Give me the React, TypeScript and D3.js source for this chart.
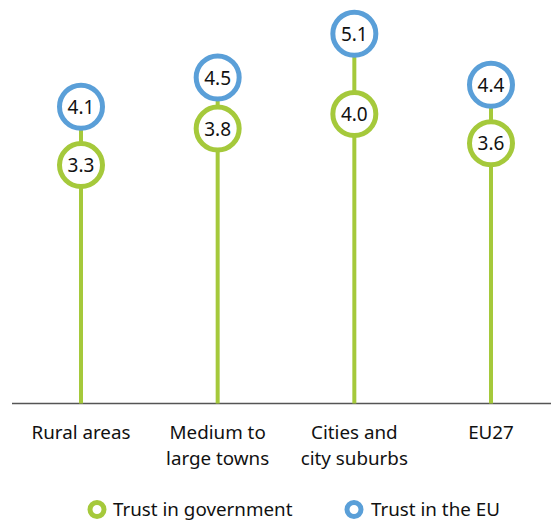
import React, {useEffect, useRef} from 'react';
import * as d3 from 'd3';

// Data
const categories = ["Rural areas", "Medium to large towns", "Cities and city suburbs", "EU27"];
const categoryLines = [["Rural areas"], ["Medium to", "large towns"], ["Cities and", "city suburbs"], ["EU27"]];
const trustGovernment = [3.3, 3.8, 4.0, 3.6];
const trustEU = [4.1, 4.5, 5.1, 4.4];
const seriesNames = ["Trust in government", "Trust in the EU"];

const GREEN = "#a5c93b";
const BLUE = "#5a9fd8";
const FONT = "'Noto Sans', sans-serif";

export default function App() {
    const svgRef = useRef<SVGSVGElement>(null);

    const svgWidth = 551,
        svgHeight = 523;

    useEffect(() => {
        const svg = d3.select(svgRef.current);
        svg.selectAll("*").remove();

        const x = d3.scalePoint<string>()
            .domain(categories)
            .range([81, 491]);

        const y = d3.scaleLinear()
            .domain([0, 5.5])
            .range([406, 4.5]);

        const axisY = 403.5;

        // baseline
        svg.append("line")
            .attr("x1", 12).attr("x2", svgWidth)
            .attr("y1", axisY).attr("y2", axisY)
            .attr("stroke", "#555")
            .attr("stroke-width", 1.5);

        const rows = categories.map((c, i) => ({cat: c, gov: trustGovernment[i], eu: trustEU[i], lines: categoryLines[i]}));

        // stems
        svg.append("g")
            .selectAll("line")
            .data(rows)
            .enter()
            .append("line")
            .attr("x1", d => x(d.cat)!)
            .attr("x2", d => x(d.cat)!)
            .attr("y1", axisY)
            .attr("y2", d => y(d.eu))
            .attr("stroke", GREEN)
            .attr("stroke-width", 4);

        const drawDots = (key: "gov" | "eu", color: string) => {
            const g = svg.append("g");
            g.selectAll("circle")
                .data(rows)
                .enter()
                .append("circle")
                .attr("cx", d => x(d.cat)!)
                .attr("cy", d => y(d[key]))
                .attr("r", 21.5)
                .attr("fill", "#fff")
                .attr("stroke", color)
                .attr("stroke-width", 5);
            g.selectAll("text")
                .data(rows)
                .enter()
                .append("text")
                .attr("x", d => x(d.cat)!)
                .attr("y", d => y(d[key]) + 7)
                .attr("text-anchor", "middle")
                .style("font-family", FONT)
                .style("font-size", "19px")
                .attr("fill", "#111")
                .text(d => d[key].toFixed(1));
        };
        drawDots("gov", GREEN);
        drawDots("eu", BLUE);

        // category labels
        const labels = svg.append("g")
            .selectAll("text")
            .data(rows)
            .enter()
            .append("text")
            .attr("text-anchor", "middle")
            .style("font-family", FONT)
            .style("font-size", "18.8px")
            .attr("fill", "#111");
        labels.selectAll("tspan")
            .data(d => d.lines.map(l => ({l, cx: x(d.cat)!})))
            .enter()
            .append("tspan")
            .attr("x", d => d.cx)
            .attr("y", (d, j) => 439 + j * 26)
            .text(d => d.l);

        // legend
        const legend = [
            {name: seriesNames[0], color: GREEN, cx: 97, tx: 113},
            {name: seriesNames[1], color: BLUE, cx: 354, tx: 371}
        ];
        legend.forEach(l => {
            svg.append("circle").attr("cx", l.cx).attr("cy", 509.5).attr("r", 7)
                .attr("fill", "#fff").attr("stroke", l.color).attr("stroke-width", 5);
            svg.append("text").attr("x", l.tx).attr("y", 516)
                .style("font-family", FONT).style("font-size", "18.8px")
                .attr("fill", "#111").text(l.name);
        });
    });

    return (
        <div>
            <svg ref={svgRef} width={svgWidth} height={svgHeight}
                 style={{position: "absolute", left: 0, top: 0, background: "#fff"}}/>
        </div>
    );
}
